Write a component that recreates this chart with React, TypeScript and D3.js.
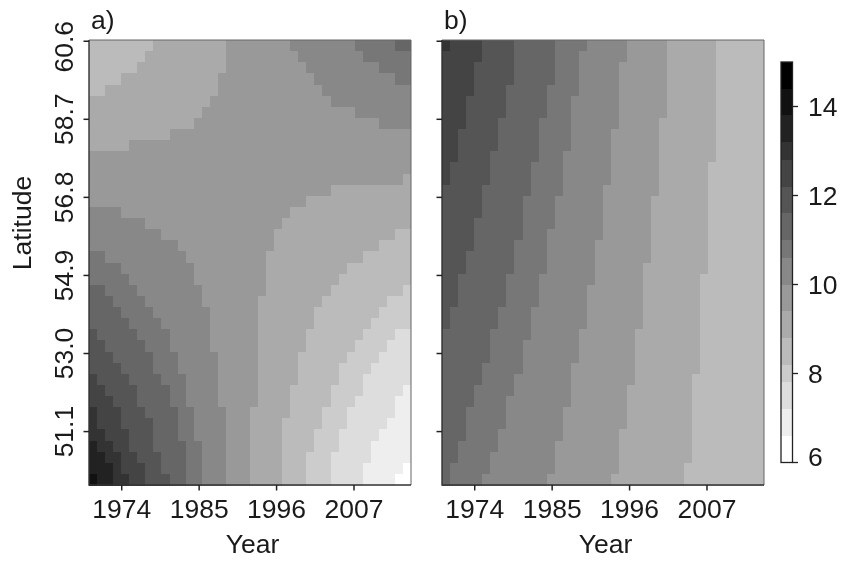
import React from "react";
import * as d3 from "d3";

// Colour key: band limits (value) and their greys, low to high
const breaks = [6, 6.6, 7.2, 7.8, 8.2, 8.8, 9.4, 10, 10.6, 11, 11.6, 12.2, 12.8, 13.2, 13.8, 14.4, 15];
const greys = ["#ffffff","#eeeeee","#dddddd","#cccccc","#bbbbbb","#aaaaaa","#999999","#888888","#777777","#666666","#555555","#444444","#333333","#222222","#111111","#000000"];
const keyTicks = [6, 8, 10, 12, 14];
const yearTicks = [1974, 1985, 1996, 2007];
const latTicks = [60.6, 58.7, 56.8, 54.9, 53.0, 51.1];

// Each row (north to south): runs of <grey digit><end column>
const rowsA = [
  "b8 a17 925 833 738 640","b7 a17 926 834 740","b6 a17 927 836 740","b4 a16 928 838 740","b2 a16 929 840",
  "a15 930 840","a14 933 840","a13 936 840","a10 940","a5 940",
  "940","940","939 a40","930 a40","927 a40",
  "84 925 a40","87 924 a40","89 923 a38 b40","811 923 a36 b40","72 812 922 a34 b40",
  "74 813 922 a32 b40","75 813 922 a31 b40","62 76 814 922 a30 b39 c40","63 77 814 921 a29 b37 c40","64 78 815 921 a28 b36 c40",
  "65 79 815 921 a28 b35 c40","51 66 710 815 921 a27 b34 c38 d40","52 67 710 815 921 a27 b33 c37 d40","53 68 711 816 921 a26 b32 c36 d40","54 68 711 816 921 a26 b31 c35 d40",
  "41 55 69 712 816 921 a26 b31 c34 d40","42 56 610 712 816 921 a25 b30 c34 d39 e40","43 56 610 712 816 921 a25 b30 c33 d38 e40","31 44 57 611 713 817 920 a25 b29 c32 d38 e40","31 44 58 611 713 817 920 a24 b29 c32 d37 e40",
  "32 45 58 611 713 817 920 a24 b28 c31 d36 e40","21 33 45 58 612 714 817 920 a24 b28 c31 d35 e40","22 34 46 59 612 714 817 920 a24 b27 c30 d35 e40","23 34 47 59 612 714 817 920 a24 b27 c30 d34 e39 f40","11 23 35 47 510 612 714 817 920 a24 b27 c30 d34 e38 f40",
];
const rowsB = [
  "31 45 59 614 718 823 928 a34 b40","45 59 614 717 823 928 a34 b40","44 59 614 717 822 928 a34 b40","44 59 614 717 822 928 a34 b40","44 58 613 717 822 928 a34 b40",
  "43 58 613 716 822 928 a34 b40","43 58 613 716 822 928 a34 b40","43 57 612 716 822 927 a34 b40","42 57 612 716 821 927 a34 b40","42 57 612 716 821 927 a34 b40",
  "42 56 612 715 821 927 a34 b40","41 56 611 715 821 927 a33 b40","41 56 611 715 821 927 a33 b40","55 611 715 820 927 a33 b40","55 610 714 820 926 a33 b40",
  "55 610 714 820 926 a33 b40","54 610 714 820 926 a33 b40","54 610 713 820 926 a33 b40","54 69 713 819 926 a33 b40","53 69 713 819 926 a33 b40",
  "53 69 713 819 925 a33 b40","52 68 712 819 925 a32 b40","52 68 712 818 925 a32 b40","52 68 712 818 925 a32 b40","51 67 711 818 925 a32 b40",
  "51 67 711 818 925 a32 b40","66 711 817 924 a32 b40","66 710 817 924 a32 b40","66 710 817 924 a32 b40","65 710 816 924 a32 b40",
  "65 79 816 924 a31 b40","64 79 816 923 a31 b40","64 78 816 923 a31 b40","63 78 815 923 a31 b40","63 78 815 923 a31 b40",
  "63 77 815 922 a31 b40","62 77 814 922 a31 b40","62 76 814 922 a31 b40","61 76 814 922 a30 b40","61 75 813 921 a30 b40",
];

const FONT = "'Liberation Sans', Arial, sans-serif";
const FS = 26.5;
const INK = "#1a1a1a";
const W = 322;
const TOP = 40, BOTTOM = 485;

const colour = d3.scaleThreshold<number, string>().domain(breaks.slice(1, -1)).range(greys);
const colX = d3.scaleBand<number>().domain(d3.range(40)).range([0, W]);
const rowY = d3.scaleBand<number>().domain(d3.range(40)).range([TOP, BOTTOM]);
const yearX = d3.scaleLinear().domain([1969.35, 2015.1]).range([0, W]);
const latY = d3.scaleLinear().domain([60.63, 49.8]).range([TOP, BOTTOM]);
const keyY = d3.scaleLinear().domain([6, 15]).range([462.5, 62]);

// value at the middle of the band of a grey digit
function bandValue(h: string) {
  const i = 15 - parseInt(h, 16);
  return (breaks[i] + breaks[i + 1]) / 2;
}
function decode(rows: string[]) {
  return rows.flatMap((row, r) => {
    let start = 0;
    return row.split(" ").map((t) => {
      const end = +t.slice(1);
      const cell = { r, start, end, value: bandValue(t[0]) };
      start = end;
      return cell;
    });
  });
}

function Panel({ rows, left, label, labels }: { rows: string[]; left: number; label: string; labels: boolean }) {
  const runs = decode(rows);
  return (
    <g transform={`translate(${left},0)`}>
      <g shapeRendering="crispEdges">
        {runs.map((d, i) => (
          <rect key={i} x={colX(d.start)} y={rowY(d.r)} width={(colX(d.end - 1) as number) + colX.bandwidth() - (colX(d.start) as number)} height={rowY.bandwidth() + 0.5} fill={colour(d.value)} />
        ))}
      </g>
      <path d={`M0,${TOP}H${W}V${BOTTOM}`} fill="none" stroke="#666" strokeWidth={1} />
      <path d={`M0,${TOP}V${BOTTOM}H${W}`} fill="none" stroke="#333" strokeWidth={1.4} />
      {yearTicks.map((t) => (
        <g key={t}>
          <line x1={yearX(t)} x2={yearX(t)} y1={BOTTOM} y2={BOTTOM + 5.5} stroke="#222" strokeWidth={1.5} />
          <text x={yearX(t)} y={518} textAnchor="middle" fontSize={FS} fontFamily={FONT} fill={INK}>{t}</text>
        </g>
      ))}
      {latTicks.map((t) => (
        <g key={t}>
          <line x1={-5.5} x2={0} y1={latY(t)} y2={latY(t)} stroke="#222" strokeWidth={1.5} />
          {labels && (
            <text transform={`translate(-16.3,${t === 60.6 ? 46.7 : latY(t)}) rotate(-90)`} textAnchor="middle" fontSize={FS} fontFamily={FONT} fill={INK}>{t.toFixed(1)}</text>
          )}
        </g>
      ))}
      <text x={yearX(1992.6)} y={553} textAnchor="middle" fontSize={FS} fontFamily={FONT} fill={INK}>Year</text>
      <text x={2} y={29} fontSize={FS} fontFamily={FONT} fill={INK}>{label}</text>
    </g>
  );
}

function Key() {
  const x0 = 781, x1 = 792.5;
  return (
    <g>
      <g shapeRendering="crispEdges">
        {greys.map((g, i) => (
          <rect key={g} x={x0} y={keyY(breaks[i + 1])} width={x1 - x0} height={keyY(breaks[i]) - keyY(breaks[i + 1])} fill={g} />
        ))}
      </g>
      <rect x={x0} y={keyY(15)} width={x1 - x0} height={keyY(6) - keyY(15)} fill="none" stroke="#222" strokeWidth={1.3} />
      {keyTicks.map((t) => (
        <g key={t}>
          <line x1={x1} x2={x1 + 5.5} y1={keyY(t)} y2={keyY(t)} stroke="#222" strokeWidth={1.3} />
          <text x={808} y={keyY(t) + (t === 6 ? 3.5 : 9.5)} fontSize={FS} fontFamily={FONT} fill={INK}>{t}</text>
        </g>
      ))}
    </g>
  );
}

export default function App() {
  return (
    <svg width={841} height={564} viewBox="0 0 841 564" style={{ position: "absolute", left: 0, top: 0, background: "#fff", filter: "blur(0.35px)" }}>
      <Panel rows={rowsA} left={89} label="a)" labels />
      <Panel rows={rowsB} left={442} label="b)" labels={false} />
      <text transform="translate(30.7,223) rotate(-90)" textAnchor="middle" fontSize={FS} fontFamily={FONT} fill={INK}>Latitude</text>
      <Key />
    </svg>
  );
}
